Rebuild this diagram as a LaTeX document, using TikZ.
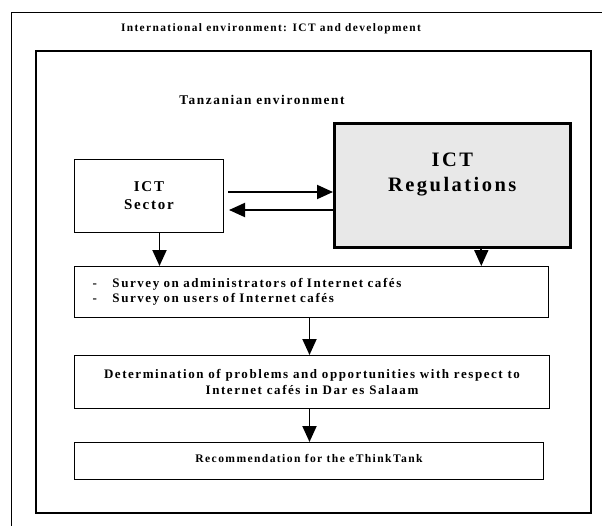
\documentclass[tikz,border=0pt]{standalone}
\usepackage{fontspec}
\setmainfont{Liberation Serif}[LetterSpace=12]
\usetikzlibrary{arrows.meta}

\begin{document}
\begin{tikzpicture}[x=1pt, y=-1pt, every node/.style={font=\bfseries},
    cadre/.style={draw, anchor=north west, inner sep=0pt},
    boite/.style={draw, line width=1pt, anchor=north west, inner sep=0pt, align=center},
    fleche/.style={-{Triangle[length=16pt,width=14pt]}, line width=1.9pt}]
  \clip (0,0) rectangle (602,525);
  % Cadres
  \node[cadre, line width=1.4pt, minimum width=640pt, minimum height=560pt] (intl) at (11,12) {};
  \node[font=\bfseries\fontsize{11.4}{13}\selectfont] (intltxt) at (271,29) {International environment: ICT and development};
  \node[cadre, line width=2pt, minimum width=555pt, minimum height=462pt] (tz) at (35,50) {};
  \node[font=\bfseries\fontsize{13.3}{15}\selectfont] (tztxt) at (262,100) {Tanzanian environment};

  % Boites
  \node[boite, minimum width=149pt, minimum height=73pt, font=\bfseries\fontsize{15}{18}\selectfont] (sector) at (74,159) {ICT\\Sector};
  \node[boite, line width=2.6pt, fill=gray!18, minimum width=236pt, minimum height=124pt,
        label={[font=\bfseries\fontsize{20.5}{25}\selectfont, align=center, yshift=11pt]center:ICT\\Regulations}] (reg) at (333,122) {};
  \node[boite, minimum width=474pt, minimum height=51pt, text width=438pt, inner xsep=18pt, align=left,
        font=\bfseries\fontsize{13}{15.5}\selectfont] (survey) at (74,266)
        {\makebox[20pt][l]{-}Survey on administrators of Internet cafés\\
         \makebox[20pt][l]{-}Survey on users of Internet cafés};
  \node[boite, minimum width=475pt, minimum height=53pt, font=\bfseries\fontsize{13}{15.5}\selectfont] (determ) at (74,355)
        {Determination of problems and opportunities with respect to\\Internet cafés in Dar es Salaam};
  \node[boite, minimum width=469pt, minimum height=37pt,
        label={[font=\bfseries\fontsize{11.6}{13}\selectfont, yshift=3pt]center:Recommendation for the eThinkTank}] (reco) at (74,442) {};

  % Fleches
  \draw[fleche] ([xshift=4pt]sector.east |- 0,192) -- (reg.west |- 0,192);
  \draw[fleche] (reg.west |- 0,210) -- ([xshift=5pt]sector.east |- 0,210);
  \draw[fleche] ([xshift=10.5pt]sector.south) -- ([xshift=10.5pt]sector.south |- survey.north);
  \draw[fleche] ([xshift=29pt]reg.south) -- ([xshift=29pt]reg.south |- survey.north);
  \draw[fleche] ([xshift=-2pt]survey.south) -- ([xshift=-2pt]survey.south |- determ.north);
  \draw[fleche] ([xshift=-2.5pt]determ.south) -- ([xshift=-2.5pt]determ.south |- reco.north);
\end{tikzpicture}
\end{document}
